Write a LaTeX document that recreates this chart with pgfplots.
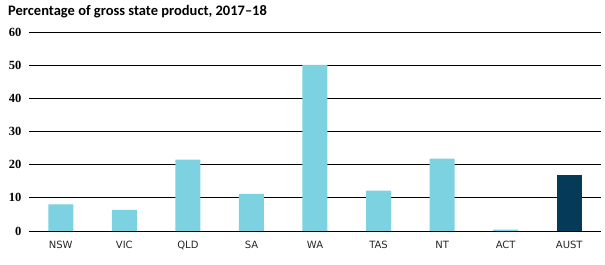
\documentclass[border=0pt]{standalone}
\usepackage{pgfplots}
\pgfplotsset{compat=1.18}
\usepackage{fontspec}
\setmainfont{Carlito}
\newfontfamily\tickfont{Liberation Serif}
\newfontfamily\xfont{DejaVu Sans}
\definecolor{lightbar}{HTML}{7DD2E1}
\definecolor{darkbar}{HTML}{053B58}
\begin{document}
\begin{tikzpicture}[x=1pt,y=1pt]
\path[use as bounding box] (0,0) rectangle (605,265);
\node[anchor=base west, inner sep=0pt, font=\fontsize{14.5}{17}\selectfont\bfseries] at (8,249) {Percentage of gross state product, 2017--18};
\begin{axis}[
  at={(29pt,34pt)}, anchor=south west,
  scale only axis, width=572pt, height=199pt,
  xmin=-0.5, xmax=8.5, ymin=0, ymax=60,
  axis line style={draw=none},
  ytick={0,10,...,60},
  ymajorgrids, grid style={black, line width=0.8pt},
  xtick={0,...,8},
  xticklabels={NSW,VIC,QLD,SA,WA,TAS,NT,ACT,AUST},
  xticklabel style={font=\xfont\fontsize{10}{12}\selectfont, text=black!85, yshift=-7pt},
  yticklabel style={font=\tickfont\fontsize{12.5}{14}\selectfont\bfseries, xshift=-4pt},
  /pgf/number format/assume math mode=true,
  major tick length=0pt,
  ybar, bar width=25pt,
  clip=false,
]
\addplot[fill=lightbar, draw=none, bar shift=0pt] coordinates {(0,8.0) (1,6.4) (2,21.5) (3,11.2) (4,50.1) (5,12.2) (6,21.8) (7,0.4)};
\addplot[fill=darkbar, draw=none, bar shift=0pt] coordinates {(8,17.0)};
\end{axis}
\end{tikzpicture}
\end{document}
